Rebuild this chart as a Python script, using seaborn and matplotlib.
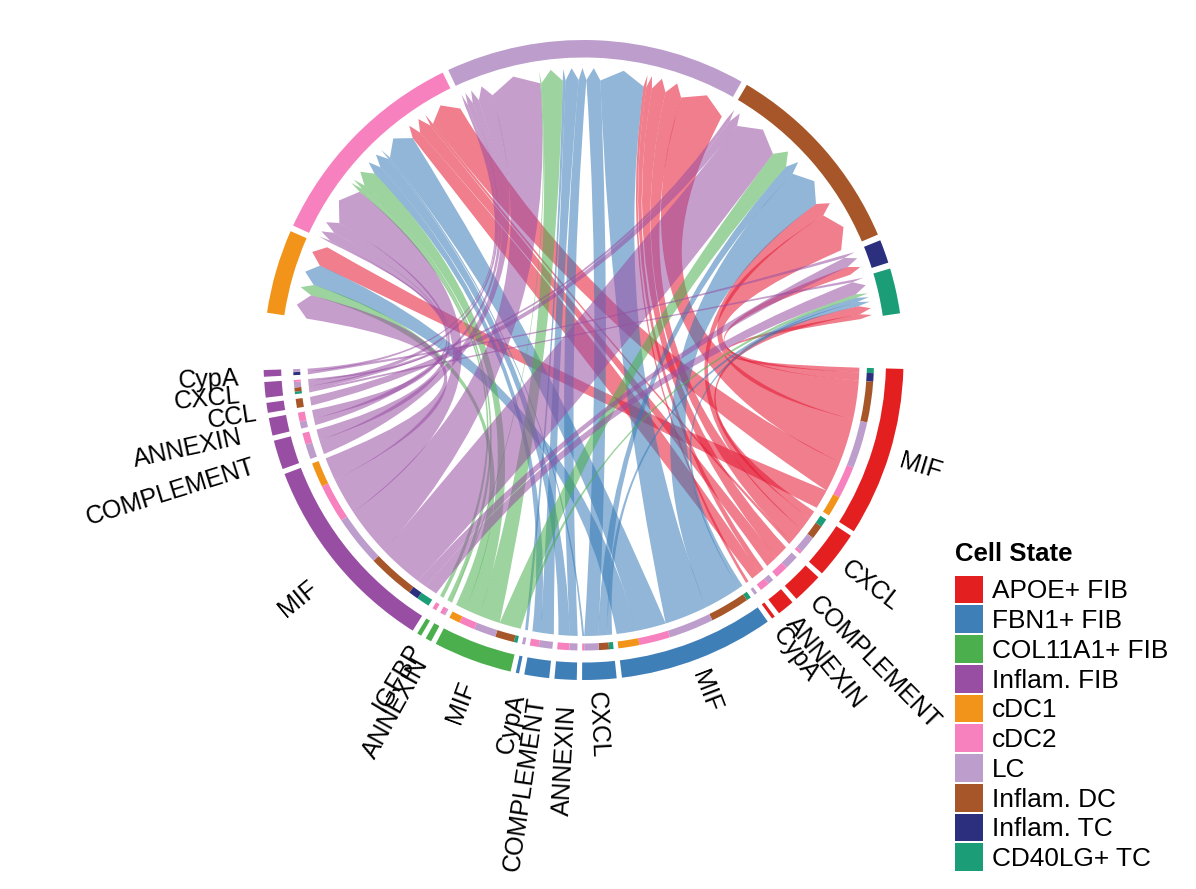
import numpy as np
import pandas as pd
import seaborn as sns
import matplotlib
matplotlib.use("Agg")
import matplotlib.pyplot as plt
from matplotlib.patches import Wedge, PathPatch, Patch
from matplotlib.path import Path

# ---------- data ----------
senders = ["APOE+ FIB", "FBN1+ FIB", "COL11A1+ FIB", "Inflam. FIB"]
receivers = ["cDC1", "cDC2", "LC", "Inflam. DC", "Inflam. TC", "CD40LG+ TC"]
legend_labels = senders + receivers
colors = ["#E41F20", "#3F7FB8", "#4BAF4E", "#984EA3", "#F29419",
          "#F781BF", "#BC9DCC", "#A65628", "#2B2F7E", "#1B9E77"]
link_colors = ["#E41530", "#377AB6", "#4BAF4E", "#984EA3"]

# strengths, columns in the order of `receivers`
APOE_pathways = ["MIF", "CXCL", "COMPLEMENT", "ANNEXIN", "CypA"]
APOE_values = [[4.1, 6.5, 9.3, 8.1, 1.7, 1.0],
               [0.0, 0.6, 3.4, 2.8, 0.0, 1.7],
               [0.0, 2.6, 2.9, 0.0, 0.0, 0.0],
               [0.0, 1.9, 1.2, 0.0, 0.0, 0.0],
               [0.0, 0.0, 0.6, 0.0, 0.0, 0.0]]
FBN1_pathways = ["MIF", "CXCL", "ANNEXIN", "COMPLEMENT", "CypA"]
FBN1_values = [[4.2, 6.2, 9.0, 7.9, 0.0, 0.9],
               [0.0, 0.4, 2.9, 2.0, 0.0, 0.9],
               [0.0, 2.4, 1.6, 0.0, 0.0, 0.0],
               [0.0, 1.8, 2.7, 0.0, 0.0, 0.0],
               [0.0, 0.0, 0.6, 0.0, 0.0, 0.0]]
COL11_pathways = ["MIF", "ANNEXIN", "IGFBP"]
COL11_values = [[2.2, 3.2, 4.4, 3.8, 0.0, 0.7],
                [0.0, 0.85, 0.25, 0.0, 0.0, 0.0],
                [0.0, 0.8, 0.0, 0.0, 0.0, 0.0]]
FIB_pathways = ["MIF", "COMPLEMENT", "ANNEXIN", "CCL", "CXCL", "CypA"]
FIB_values = [[4.9, 7.7, 10.2, 9.4, 2.0, 2.6],
              [0.0, 2.3, 3.0, 0.0, 0.0, 0.0],
              [0.0, 1.8, 1.4, 0.0, 0.0, 0.0],
              [0.0, 0.0, 0.0, 1.8, 0.0, 0.0],
              [0.0, 0.4, 1.1, 0.8, 0.0, 0.5],
              [0.0, 0.0, 0.6, 0.0, 0.6, 0.0]]

sender_pathways = [APOE_pathways, FBN1_pathways, COL11_pathways, FIB_pathways]
sender_values = [APOE_values, FBN1_values, COL11_values, FIB_values]

rows = []
for s, pw, vals in zip(senders, sender_pathways, sender_values):
    for p, row in zip(pw, vals):
        for r, v in zip(receivers, row):
            rows.append((s, p, r, v))
df = pd.DataFrame(rows, columns=["sender", "pathway", "receiver", "value"])

# ---------- style ----------
sns.set_theme(style="white")
plt.rcParams["font.family"] = ["Liberation Sans", "DejaVu Sans"]
plt.rcParams["text.color"] = "black"
palette = dict(zip(legend_labels, sns.color_palette(colors)))
link_palette = dict(zip(senders, sns.color_palette(link_colors)))

W, H, CX, CY = 1196, 889, 583.5, 360.0
fig = plt.figure(figsize=(W / 100, H / 100), dpi=100)
ax = fig.add_axes([0, 0, 1, 1])
ax.set_xlim(-CX, W - CX)
ax.set_ylim(CY - H, CY)
ax.set_axis_off()

R_OUT, R_OUT_IN = 320, 302.5
R_INNER_OUT, R_INNER_IN = 290.5, 283.5
R_SRC, R_DST, R_TIP = 276, 280, 292
CTRL_NEAR, CTRL_FAR = 8, 30
ALPHA = 0.55

LOW_START, LOW_END, LOW_GAP = -1.6, -178.2, 0.95
UP_START, UP_END, UP_GAP = 171.5, 8.4, 1.1

LABEL_DOWN = 4
label_radius = {
    ("Inflam. FIB", "MIF"): 351, ("Inflam. FIB", "CCL"): 331,
    ("Inflam. FIB", "ANNEXIN"): 350, ("Inflam. FIB", "COMPLEMENT"): 346,
    ("COL11A1+ FIB", "IGFBP"): 330, ("COL11A1+ FIB", "ANNEXIN"): 340,
    ("COL11A1+ FIB", "MIF"): 342, ("FBN1+ FIB", "COMPLEMENT"): 340,
    ("FBN1+ FIB", "CypA"): 340,
}


def pol(r, deg):
    t = np.deg2rad(deg)
    return np.array([r * np.cos(t), r * np.sin(t)])


def arc(r_out, r_in, a, b, color):
    """ring piece between angles a > b"""
    ax.add_patch(Wedge((0, 0), r_out, b, a, width=r_out - r_in,
                       facecolor=color, edgecolor="none", linewidth=0))


def control(p, q):
    m = p + q
    n = np.linalg.norm(m)
    if n < 1e-6:
        return np.zeros(2)
    cosang = np.dot(p, q) / (np.linalg.norm(p) * np.linalg.norm(q))
    sep = np.degrees(np.arccos(np.clip(cosang, -1, 1)))
    return m / n * (CTRL_NEAR + (CTRL_FAR - CTRL_NEAR) * sep / 180)


def put_label(sector, p, mid):
    right = mid > -90
    r = label_radius.get((sector, p), 332 if right else 345)
    rot = mid if right else mid + 180
    t = np.deg2rad(rot)
    xy = pol(r, mid) + LABEL_DOWN * np.array([np.sin(t), -np.cos(t)])
    ax.text(*xy, p, rotation=rot, rotation_mode="anchor",
            ha="left" if right else "right", va="center",
            fontsize=18, color="black")


# sender layout
total = df["value"].sum()
n_path = df.groupby(["sender", "pathway"]).ngroups
low_scale = (LOW_START - LOW_END - LOW_GAP * (n_path - 1)) / total
up_scale = (UP_START - UP_END - UP_GAP * (len(receivers) - 1)) / total

src_pos = {}
angle = LOW_START
for s, pw, vals in zip(senders, sender_pathways, sender_values):
    for p, row in zip(pw, vals):
        width = sum(row) * low_scale
        arc(R_OUT, R_OUT_IN, angle, angle - width, palette[s])
        put_label(s, p, angle - width / 2)
        a = angle
        for r, v in zip(receivers[::-1], row[::-1]):
            if v > 0:
                w = v * low_scale
                arc(R_INNER_OUT, R_INNER_IN, a, a - w, palette[r])
                src_pos[(s, p, r)] = (a, a - w)
                a -= w
        angle -= width + LOW_GAP

# receiver layout
dst_pos = {}
angle = UP_START
for r in receivers:
    sub = df[df["receiver"] == r]
    width = sub["value"].sum() * up_scale
    arc(R_OUT, R_OUT_IN, angle, angle - width, palette[r])
    a = angle
    for s, pw, vals in zip(senders[::-1], sender_pathways[::-1], sender_values[::-1]):
        for p, row in zip(pw[::-1], vals[::-1]):
            v = row[receivers.index(r)]
            if v > 0:
                w = v * up_scale
                dst_pos[(s, p, r)] = (a, a - w)
                a -= w
    angle -= width + UP_GAP

# links
for s, pw, vals in zip(senders, sender_pathways, sender_values):
    for p, row in zip(pw, vals):
        for r, v in zip(receivers, row):
            if v <= 0:
                continue
            a1, a2 = src_pos[(s, p, r)]
            b1, b2 = dst_pos[(s, p, r)]
            arc_angles = np.linspace(a1, a2, max(3, int((a1 - a2) * 3)))
            verts = [pol(R_SRC, x) for x in arc_angles]
            codes = [Path.MOVETO] + [Path.LINETO] * (len(verts) - 1)
            pa2, pb1 = pol(R_SRC, a2), pol(R_DST, b1)
            verts += [control(pa2, pb1), pb1]
            codes += [Path.CURVE3, Path.CURVE3]
            verts += [pol(R_TIP, (b1 + b2) / 2), pol(R_DST, b2)]
            codes += [Path.LINETO, Path.LINETO]
            pb2, pa1 = pol(R_DST, b2), pol(R_SRC, a1)
            verts += [control(pb2, pa1), pa1]
            codes += [Path.CURVE3, Path.CURVE3]
            ax.add_patch(PathPatch(Path(verts, codes), facecolor=link_palette[s],
                                   edgecolor="none", linewidth=0, alpha=ALPHA))

# legend
handles = [Patch(facecolor=palette[n], edgecolor="none", label=n) for n in legend_labels]
leg = ax.legend(handles=handles, title="Cell State", frameon=False,
                loc="upper left", bbox_to_anchor=(955 / W, 1 - 542 / H),
                bbox_transform=fig.transFigure, borderpad=0, borderaxespad=0,
                fontsize=18.9, handlelength=1.07, handleheight=1.25,
                labelspacing=0.075, handletextpad=0.33, labelcolor="black",
                title_fontproperties={"weight": "bold", "size": 18.5})
leg._legend_box.align = "left"
leg._legend_box.sep = 7

fig.savefig("out.png", dpi=100)
